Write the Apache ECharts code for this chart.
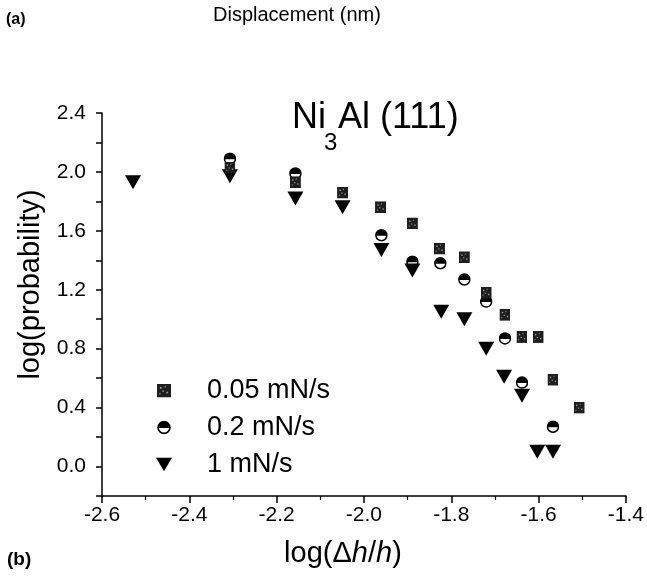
<!DOCTYPE html>
<html>
<head>
<meta charset="utf-8">
<script src="https://cdn.jsdelivr.net/npm/echarts@6/dist/echarts.min.js"></script>
<style>
  html, body { margin: 0; padding: 0; background: #fff; }
  #chart { width: 647px; height: 576px; }
</style>
</head>
<body>
<div id="chart"></div>
<script>
// Loading-rate series: log(dh/h) vs log(probability)
const xSlow = [-2.307, -2.157, -2.049, -1.962, -1.889, -1.827, -1.770, -1.720, -1.677, -1.638, -1.601, -1.567, -1.507];
const ySlow = [2.03, 1.93, 1.86, 1.76, 1.65, 1.48, 1.42, 1.18, 1.03, 0.88, 0.88, 0.59, 0.40];

const xMid = [-2.307, -2.157, -1.960, -1.889, -1.825, -1.770, -1.720, -1.677, -1.638, -1.567];
const yMid = [2.09, 1.99, 1.57, 1.39, 1.38, 1.27, 1.12, 0.87, 0.57, 0.27];

const xFast = [-2.529, -2.307, -2.157, -2.049, -1.960, -1.889, -1.823, -1.770, -1.720, -1.679, -1.638, -1.603, -1.567];
const yFast = [1.93, 1.97, 1.82, 1.76, 1.47, 1.33, 1.05, 1.00, 0.80, 0.61, 0.48, 0.10, 0.10];

const seriesNames = ['0.05 mN/s', '0.2 mN/s', '1 mN/s'];
const xTicks = { min: -2.6, max: -1.4, step: 0.2 };
const yTicks = { min: -0.2, max: 2.4, step: 0.2 };

const FONT = '"Liberation Sans", Arial, Helvetica, sans-serif';

function svgSymbol(svg) {
  return 'image://data:image/svg+xml;charset=utf-8,' + encodeURIComponent(svg);
}

// speckled dark square
const squareIcon = svgSymbol(
  "<svg xmlns='http://www.w3.org/2000/svg' width='24' height='24' viewBox='0 0 24 24'>" +
  "<rect x='0' y='0' width='24' height='24' fill='#1e1e1e'/>" +
  "<rect x='5' y='6' width='3' height='3' fill='#9a9a9a'/>" +
  "<rect x='13' y='4' width='2' height='3' fill='#8a8a8a'/>" +
  "<rect x='9' y='12' width='3' height='2' fill='#a0a0a0'/>" +
  "<rect x='16' y='14' width='3' height='3' fill='#909090'/>" +
  "<rect x='4' y='16' width='2' height='3' fill='#858585'/>" +
  "</svg>");

// circle: top half filled, bottom half open
const halfCircleIcon = svgSymbol(
  "<svg xmlns='http://www.w3.org/2000/svg' width='26' height='26' viewBox='0 0 26 26'>" +
  "<circle cx='13' cy='13' r='11' fill='#fff' stroke='#000' stroke-width='3'/>" +
  "<path d='M1.5 14 A11.5 11.5 0 0 1 24.5 14 Z' fill='#000'/>" +
  "</svg>");

// downward-pointing triangle
const downTriangle = 'path://M0,0L20,0L10,17Z';

const toPairs = (xs, ys) => xs.map((x, i) => [x, ys[i]]);

const chart = echarts.init(document.getElementById('chart'), null, { renderer: 'canvas' });

chart.setOption({
  backgroundColor: '#fff',
  animation: false,
  textStyle: { fontFamily: FONT, color: '#000' },
  grid: { left: 102, right: 20, top: 113, bottom: 80, containLabel: false },
  xAxis: {
    type: 'value',
    min: xTicks.min,
    max: xTicks.max,
    interval: xTicks.step,
    name: '{t|log(\u0394}{i|h}{t|/}{i|h}{t|)}',
    nameLocation: 'middle',
    nameGap: 43,
    nameTextStyle: {
      padding: [0, 42, 0, 0],
      rich: {
        t: { fontSize: 29, fontFamily: FONT, color: '#000' },
        i: { fontSize: 29, fontFamily: FONT, fontStyle: 'italic', color: '#000' }
      }
    },
    axisLine: { onZero: false, lineStyle: { color: '#000', width: 1.5 } },
    axisTick: { show: true, inside: false, length: 7, lineStyle: { color: '#000', width: 1.5 } },
    minorTick: { show: true, splitNumber: 2, length: 4, lineStyle: { color: '#000', width: 1.2 } },
    axisLabel: {
      fontSize: 21, color: '#000', fontFamily: FONT, margin: 9,
      formatter: v => v.toFixed(1)
    },
    splitLine: { show: false }
  },
  yAxis: {
    type: 'value',
    min: yTicks.min,
    max: yTicks.max,
    interval: yTicks.step,
    name: 'log(probability)',
    nameLocation: 'middle',
    nameGap: 55,
    nameTextStyle: { fontSize: 29, fontFamily: FONT, color: '#000', padding: [0, 0, 0, 40] },
    axisLine: { onZero: false, lineStyle: { color: '#000', width: 1.5 } },
    axisTick: { show: true, inside: false, length: 6, lineStyle: { color: '#000', width: 1.5 } },
    axisLabel: {
      fontSize: 21, color: '#000', fontFamily: FONT, margin: 16,
      formatter: v => {
        const k = Math.round(v * 10);
        return (k >= 0 && k % 4 === 0) ? v.toFixed(1) : '';
      }
    },
    splitLine: { show: false }
  },
  legend: {
    orient: 'vertical',
    left: 151,
    top: 372,
    itemGap: 10,
    itemWidth: 16,
    itemHeight: 14,
    data: seriesNames,
    textStyle: { fontSize: 27, lineHeight: 27, fontFamily: FONT, color: '#000', padding: [0, 0, 0, 30] }
  },
  graphic: [
    { type: 'text', left: 6, top: 12, style: { text: '(a)', font: 'bold 16px ' + FONT, fill: '#000' } },
    { type: 'text', left: 213, top: 5, style: { text: 'Displacement (nm)', font: '20px ' + FONT, fill: '#000' } },
    { type: 'text', left: 7, top: 550, style: { text: '(b)', font: 'bold 19px ' + FONT, fill: '#000' } },
    { type: 'text', left: 292, top: 100, style: { text: 'Ni', font: '36px ' + FONT, fill: '#000' } },
    { type: 'text', left: 324, top: 131, style: { text: '3', font: '24px ' + FONT, fill: '#000' } },
    { type: 'text', left: 338, top: 100, style: { text: 'Al (111)', font: '36px ' + FONT, fill: '#000' } }
  ],
  series: [
    {
      name: seriesNames[0],
      type: 'scatter',
      z: 5,
      symbol: squareIcon,
      symbolSize: [11, 12],
      itemStyle: { opacity: 1 },
      data: toPairs(xSlow, ySlow)
    },
    {
      name: seriesNames[1],
      type: 'scatter',
      z: 3,
      symbol: halfCircleIcon,
      symbolSize: 13,
      itemStyle: { opacity: 1 },
      data: toPairs(xMid, yMid)
    },
    {
      name: seriesNames[2],
      type: 'scatter',
      z: 4,
      symbol: downTriangle,
      symbolSize: [16, 14],
      itemStyle: { color: '#000', opacity: 1 },
      data: toPairs(xFast, yFast)
    }
  ]
});
</script>
</body>
</html>
